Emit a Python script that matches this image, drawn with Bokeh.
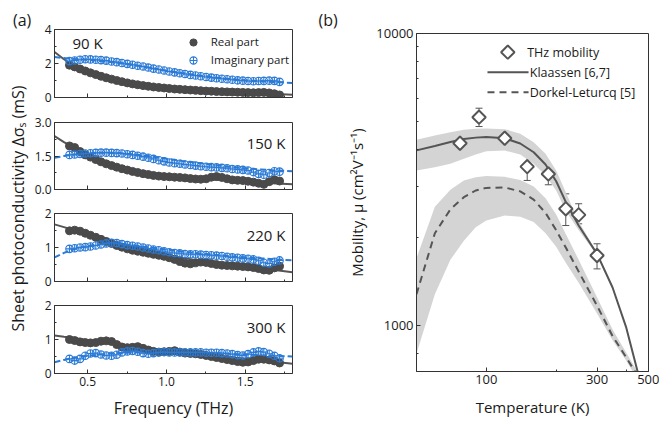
from math import pi
from bokeh.plotting import figure
from bokeh.layouts import row, column
from bokeh.models import (Range1d, FixedTicker, Label, Legend, LegendItem, Whisker,
                          ColumnDataSource, BasicTickFormatter, LinearScale, TeeHead,
                          CustomJSTickFormatter, PrintfTickFormatter)
from bokeh.embed import file_html
from bokeh.resources import INLINE

FONT = "Open Sans"
DARK = "#4a4a4a"
BLUE = "#2a7ad6"
AX = "#333333"
TXT = "#1a1a1a"

# ---------------- panel (a) data ----------------
freq = [0.385, 0.418, 0.452, 0.485, 0.518, 0.552, 0.585, 0.618, 0.652, 0.685,
        0.718, 0.752, 0.785, 0.818, 0.852, 0.885, 0.918, 0.952, 0.985, 1.018,
        1.052, 1.085, 1.118, 1.152, 1.185, 1.218, 1.252, 1.285, 1.318, 1.352,
        1.385, 1.418, 1.452, 1.485, 1.518, 1.552, 1.585, 1.618, 1.652, 1.685, 1.718]

real_90 = [1.90, 1.80, 1.68, 1.56, 1.45, 1.35, 1.25, 1.16, 1.08, 1.00,
           0.93, 0.86, 0.80, 0.75, 0.70, 0.66, 0.62, 0.59, 0.56, 0.53,
           0.50, 0.48, 0.46, 0.44, 0.42, 0.40, 0.38, 0.37, 0.35, 0.34,
           0.33, 0.32, 0.31, 0.30, 0.29, 0.28, 0.29, 0.30, 0.27, 0.22, 0.15]
imag_90 = [2.14, 2.18, 2.22, 2.25, 2.24, 2.22, 2.20, 2.17, 2.12, 2.08,
           2.03, 1.98, 1.93, 1.87, 1.82, 1.76, 1.70, 1.65, 1.59, 1.53,
           1.48, 1.43, 1.38, 1.33, 1.29, 1.25, 1.21, 1.17, 1.13, 1.10,
           1.07, 1.04, 1.01, 0.99, 0.97, 0.96, 0.97, 0.98, 0.99, 0.98, 0.92]
real_150 = [1.95, 1.88, 1.70, 1.55, 1.45, 1.34, 1.24, 1.15, 1.07, 1.00,
            0.93, 0.87, 0.81, 0.76, 0.71, 0.67, 0.63, 0.60, 0.58, 0.57,
            0.55, 0.54, 0.52, 0.49, 0.47, 0.46, 0.48, 0.55, 0.58, 0.54,
            0.48, 0.43, 0.41, 0.40, 0.37, 0.33, 0.28, 0.23, 0.35, 0.44, 0.38]
imag_150 = [1.55, 1.57, 1.59, 1.61, 1.62, 1.64, 1.65, 1.65, 1.64, 1.63,
            1.61, 1.58, 1.55, 1.51, 1.47, 1.42, 1.37, 1.31, 1.26, 1.21,
            1.18, 1.15, 1.12, 1.10, 1.07, 1.04, 1.02, 1.00, 0.99, 0.97,
            0.95, 0.92, 0.90, 0.88, 0.85, 0.78, 0.70, 0.66, 0.74, 0.82, 0.80]
real_220 = [1.49, 1.51, 1.48, 1.42, 1.36, 1.30, 1.24, 1.18, 1.12, 1.06,
            1.01, 0.96, 0.92, 0.89, 0.86, 0.83, 0.80, 0.77, 0.74, 0.70,
            0.65, 0.59, 0.54, 0.52, 0.55, 0.57, 0.56, 0.53, 0.50, 0.48,
            0.47, 0.46, 0.45, 0.44, 0.43, 0.41, 0.38, 0.34, 0.33, 0.40, 0.45]
imag_220 = [0.96, 0.98, 1.00, 1.01, 1.03, 1.06, 1.09, 1.12, 1.14, 1.13,
            1.10, 1.07, 1.05, 1.03, 1.00, 0.97, 0.94, 0.92, 0.89, 0.86,
            0.84, 0.83, 0.81, 0.80, 0.80, 0.79, 0.78, 0.77, 0.76, 0.75,
            0.73, 0.71, 0.70, 0.68, 0.67, 0.65, 0.61, 0.55, 0.53, 0.58, 0.62]
real_300 = [1.00, 0.97, 0.93, 0.91, 0.90, 0.91, 0.95, 0.96, 0.94, 0.85,
            0.78, 0.76, 0.77, 0.79, 0.74, 0.69, 0.65, 0.63, 0.64, 0.65,
            0.67, 0.63, 0.60, 0.59, 0.58, 0.56, 0.53, 0.50, 0.47, 0.44,
            0.41, 0.38, 0.35, 0.33, 0.34, 0.38, 0.42, 0.42, 0.40, 0.37, 0.31]
imag_300 = [0.43, 0.38, 0.43, 0.52, 0.59, 0.60, 0.56, 0.53, 0.52, 0.55,
            0.62, 0.65, 0.66, 0.64, 0.60, 0.58, 0.60, 0.62, 0.63, 0.62,
            0.62, 0.62, 0.62, 0.62, 0.62, 0.62, 0.61, 0.61, 0.61, 0.60,
            0.59, 0.57, 0.54, 0.53, 0.57, 0.62, 0.65, 0.63, 0.58, 0.52, 0.45]

fit_freq = [0.29, 0.35, 0.4, 0.5, 0.6, 0.7, 0.8, 0.9, 1.0, 1.1, 1.2, 1.3, 1.4, 1.5, 1.6, 1.7, 1.8]
fit_re_90 = [2.68, 2.25, 1.95, 1.50, 1.18, 0.96, 0.79, 0.66, 0.56, 0.48, 0.42, 0.37, 0.32, 0.28, 0.24, 0.20, 0.16]
fit_im_90 = [2.38, 2.32, 2.27, 2.22, 2.13, 2.03, 1.90, 1.75, 1.58, 1.44, 1.31, 1.19, 1.09, 1.01, 0.95, 0.90, 0.86]
fit_re_150 = [2.39, 2.12, 1.92, 1.50, 1.22, 1.00, 0.85, 0.73, 0.63, 0.56, 0.50, 0.45, 0.40, 0.36, 0.31, 0.27, 0.23]
fit_im_150 = [1.42, 1.50, 1.55, 1.62, 1.65, 1.63, 1.57, 1.48, 1.38, 1.28, 1.19, 1.10, 1.02, 0.95, 0.90, 0.85, 0.82]
fit_re_220 = [1.68, 1.60, 1.53, 1.39, 1.25, 1.12, 1.00, 0.89, 0.79, 0.70, 0.62, 0.55, 0.49, 0.43, 0.38, 0.33, 0.27]
fit_im_220 = [0.71, 0.84, 0.93, 1.05, 1.11, 1.11, 1.06, 1.00, 0.94, 0.88, 0.83, 0.79, 0.75, 0.71, 0.68, 0.65, 0.62]
fit_re_300 = [1.12, 1.08, 1.05, 0.98, 0.92, 0.86, 0.80, 0.74, 0.67, 0.62, 0.57, 0.52, 0.48, 0.44, 0.39, 0.34, 0.29]
fit_im_300 = [0.33, 0.40, 0.45, 0.52, 0.57, 0.60, 0.62, 0.63, 0.63, 0.62, 0.61, 0.60, 0.58, 0.56, 0.54, 0.52, 0.50]

temps_a = ["90 K", "150 K", "220 K", "300 K"]
y_max = [4, 3, 2, 2]
y_major = [[0, 2, 4], [0, 1.5, 3.0], [0, 1, 2], [0, 1, 2]]
y_minor = [[1, 3], [0.75, 2.25], [0.5, 1.5], [0.5, 1.5]]
y_fmt = ["%d", "%.1f", "%d", "%d"]
x_major = [0.5, 1.0, 1.5]
x_minor = [0.75, 1.25, 1.75]

# ---------------- panel (b) data ----------------
T_fit = [50, 60, 70, 80, 90, 100, 120, 140, 160, 180, 200, 220, 250, 300, 350, 400, 450, 500]
klaassen = [3980, 4120, 4250, 4350, 4400, 4420, 4380, 4200, 3920, 3560, 3120, 2650, 2200, 1760, 1350, 990, 690, 480]
klaassen_hi = [4325, 4475, 4590, 4680, 4720, 4730, 4700, 4535, 4245, 3873, 3395, 2861, 2270, 1780, 1360, 995, 690, 480]
klaassen_lo = [3395, 3484, 3580, 3723, 3851, 3953, 3975, 3851, 3580, 3265, 2900, 2470, 2120, 1740, 1340, 985, 690, 480]
dorkel = [1280, 2070, 2500, 2750, 2900, 2960, 2970, 2880, 2700, 2430, 2120, 1850, 1530, 1170, 920, 780, 670, 570]
dorkel_hi = [1700, 2550, 2920, 3140, 3220, 3250, 3230, 3150, 2990, 2730, 2400, 2060, 1680, 1250, 970, 810, 690, 580]
dorkel_lo = [800, 1280, 1680, 1950, 2170, 2290, 2380, 2360, 2260, 2070, 1860, 1640, 1400, 1100, 890, 760, 650, 555]

T_pts = [77, 93, 120, 150, 185, 220, 250, 300]
mu_thz = [4210, 5170, 4380, 3500, 3305, 2510, 2393, 1737]
mu_lo = [3827, 4802, 4080, 3139, 3034, 2200, 2230, 1563]
mu_hi = [4557, 5549, 4655, 3854, 3556, 2825, 2612, 1905]


def style(p, fs):
    for ax in p.axis:
        ax.axis_line_color = AX
        ax.major_tick_line_color = AX
        ax.minor_tick_line_color = AX
        ax.major_tick_in = 4
        ax.major_tick_out = 0
        ax.minor_tick_in = 2
        ax.minor_tick_out = 0
        ax.major_label_text_font = FONT
        ax.major_label_text_font_size = fs
        ax.major_label_text_color = TXT
        ax.major_label_standoff = 3
        ax.axis_label_text_font = FONT
        ax.axis_label_text_font_style = "normal"
        ax.axis_label_text_color = TXT
    p.outline_line_color = AX
    p.outline_line_alpha = 1
    p.xgrid.visible = False
    p.ygrid.visible = False


def panel_title(p, text, offset):
    p.title.text = text
    p.title.align = "left"
    p.title.offset = offset
    p.title.text_font = FONT
    p.title.text_font_size = "16px"
    p.title.text_font_style = "normal"
    p.title.text_color = TXT
    p.title.standoff = 6


H = 424
LAB_BOTTOM = 360   # where this label-only figure's reference line sits (measured)

# ---------------- y label figure for (a) ----------------
lab_fig = figure(width=31, height=H, min_border=0, min_border_top=33,
                 x_range=Range1d(0, 1), y_range=Range1d(0, 1),
                 x_axis_location=None, y_axis_location=None, toolbar_location=None,
                 output_backend="svg")
lab_fig.outline_line_color = None
lab_fig.xgrid.visible = False
lab_fig.ygrid.visible = False
panel_title(lab_fig, "(a)", 12.5)
lab_fig.add_layout(Label(x=17, y=LAB_BOTTOM - 197, x_units="screen", y_units="screen",
                         angle=pi / 2, text="Sheet photoconductivity Δσₛ (mS)",
                         text_align="center", text_baseline="middle", text_font=FONT,
                         text_font_size="16px", text_color=TXT))

reals = [real_90, real_150, real_220, real_300]
imags = [imag_90, imag_150, imag_220, imag_300]
fres = [fit_re_90, fit_re_150, fit_re_220, fit_re_300]
fims = [fit_im_90, fit_im_150, fit_im_220, fit_im_300]
tops = [29, 13, 12, 12]
fhs = [68, 67, 68, 68]
bots = [12, 12, 12, 51]
lab_pos = [(18, 54.7, "left"), (231, 46.7, "right"), (231, 46.7, "right"), (231, 47, "right")]

subs = []
for k in range(4):
    h = tops[k] + fhs[k] + bots[k]
    p = figure(width=269, height=h, min_border_left=22, min_border_right=8,
               min_border_top=tops[k], min_border_bottom=bots[k],
               x_range=Range1d(0.29, 1.80), y_range=Range1d(0, y_max[k]),
               toolbar_location=None, output_backend="svg")
    p.line(fit_freq, fres[k], line_color="#555555", line_width=2)
    p.line(fit_freq, fims[k], line_color=BLUE, line_width=2, line_dash="6 3")
    r_re = p.scatter(freq, reals[k], marker="circle", size=8, fill_color=DARK,
                     line_color=DARK, line_width=1)
    r_im = p.scatter(freq, imags[k], marker="circle_cross", size=7.5, fill_color="white",
                     fill_alpha=0.0, line_color=BLUE, line_width=1.1)
    p.xaxis.ticker = FixedTicker(ticks=x_major, minor_ticks=x_minor)
    p.yaxis.ticker = FixedTicker(ticks=y_major[k], minor_ticks=y_minor[k])
    p.yaxis.formatter = PrintfTickFormatter(format=y_fmt[k])
    style(p, "12px")
    if k < 3:
        p.xaxis.formatter = CustomJSTickFormatter(code="return ''")
        p.xaxis.major_label_standoff = 0
        p.xaxis.major_label_text_font_size = "1px"
    else:
        p.xaxis.formatter = PrintfTickFormatter(format="%.1f")
        p.xaxis.axis_label = "Frequency (THz)"
        p.xaxis.axis_label_text_font_size = "16px"
        p.xaxis.axis_label_standoff = 8
    lx, ly, al = lab_pos[k]
    p.add_layout(Label(x=lx, y=ly, x_units="screen", y_units="screen", text=temps_a[k],
                       text_align=al, text_baseline="middle", text_font=FONT,
                       text_font_size="15px", text_color=TXT))
    if k == 0:
        leg = Legend(items=[LegendItem(label="Real part", renderers=[r_re]),
                            LegendItem(label="Imaginary part", renderers=[r_im])],
                     location=(128.7, 28.3), glyph_width=20, glyph_height=18,
                     label_height=18, label_standoff=8, padding=0, spacing=0,
                     margin=0, border_line_alpha=0, background_fill_alpha=0,
                     label_text_font=FONT, label_text_font_size="11.5px",
                     label_text_color=TXT)
        p.add_layout(leg)
    subs.append(p)

# ---------------- panel (b) ----------------
pb = figure(width=359, height=H, x_axis_type="log", y_axis_type="log",
            x_range=Range1d(50, 500), y_range=Range1d(696, 10000),
            min_border_left=116, min_border_right=11, min_border_top=33, min_border_bottom=53,
            toolbar_location=None, output_backend="svg")
pb.extra_x_ranges = {"lg": Range1d(0, 1)}
pb.extra_y_ranges = {"lg": Range1d(0, 1)}
pb.extra_x_scales = {"lg": LinearScale()}
pb.extra_y_scales = {"lg": LinearScale()}
panel_title(pb, "(b)", -98)

BAND = "#d4d4d4"
LINEB = "#555555"
pb.varea(x=T_fit, y1=klaassen_lo, y2=klaassen_hi, fill_color=BAND)
pb.varea(x=T_fit, y1=dorkel_lo, y2=dorkel_hi, fill_color=BAND)
pb.line(T_fit, klaassen, line_color=LINEB, line_width=2)
pb.line(T_fit, dorkel, line_color=LINEB, line_width=2, line_dash="7 5")
src = ColumnDataSource(dict(T=T_pts, mu=mu_thz, lo=mu_lo, hi=mu_hi))
pb.add_layout(Whisker(source=src, base="T", upper="hi", lower="lo", dimension="height",
                      line_color=LINEB, line_width=1,
                      upper_head=TeeHead(size=7, line_color=LINEB, line_width=1),
                      lower_head=TeeHead(size=7, line_color=LINEB, line_width=1)))
pb.scatter("T", "mu", source=src, marker="square", angle=pi / 4, size=9.5,
           fill_color="white", line_color=LINEB, line_width=2)

# legend keys of (b), placed in frame-fraction coordinates
leg_x_marker = [0.3935]
leg_y_rows = [0.9447, 0.8855, 0.8263]
leg_x_line = [0.306, 0.483]
pb.scatter(leg_x_marker, [leg_y_rows[0]], x_range_name="lg", y_range_name="lg",
           marker="square", angle=pi / 4, size=9.5, fill_color="white",
           line_color=LINEB, line_width=2)
pb.line(leg_x_line, [leg_y_rows[1]] * 2, x_range_name="lg", y_range_name="lg",
        line_color=LINEB, line_width=2)
pb.line(leg_x_line, [leg_y_rows[2]] * 2, x_range_name="lg", y_range_name="lg",
        line_color=LINEB, line_width=2, line_dash="7 5")
for txt, lx, ly in [("THz mobility", 110.7, 319.3), ("Klaassen [6,7]", 113.3, 299.3),
                    ("Dorkel-Leturcq [5]", 113.3, 279.3)]:
    pb.add_layout(Label(x=lx, y=ly, x_units="screen", y_units="screen", text=txt,
                        text_baseline="middle", text_font=FONT, text_font_size="12.5px",
                        text_color=TXT))

pb.xaxis.ticker = FixedTicker(ticks=[100, 300, 500], minor_ticks=[200, 400])
pb.yaxis.ticker = FixedTicker(ticks=[1000, 10000],
                              minor_ticks=[800, 2000, 3000, 4000, 5000, 6000, 7000, 8000, 9000])
pb.xaxis.formatter = BasicTickFormatter(use_scientific=False)
pb.yaxis.formatter = BasicTickFormatter(use_scientific=False)
style(pb, "13px")
pb.xaxis.axis_label = "Temperature (K)"
pb.yaxis.axis_label = "Mobility, μ (cm²V⁻¹s⁻¹)"
pb.xaxis.axis_label_text_font_size = "15px"
pb.yaxis.axis_label_text_font_size = "15px"
pb.xaxis.axis_label_standoff = 10
pb.yaxis.axis_label_standoff = 6

layout = row(lab_fig, column(*subs), pb)
open("out.html", "w").write(file_html(layout, INLINE))
